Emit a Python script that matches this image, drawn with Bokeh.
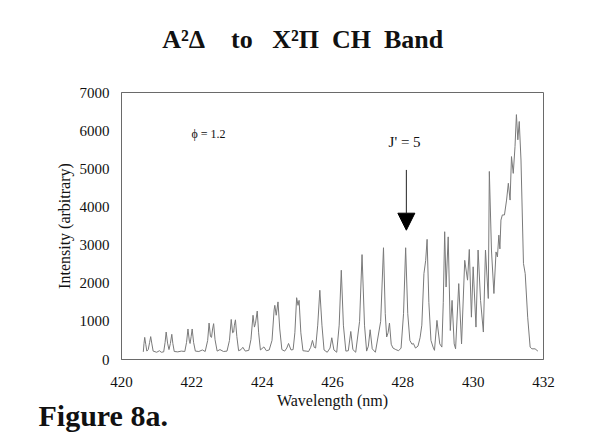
from bokeh.plotting import figure
from bokeh.layouts import column
from bokeh.models import Range1d, FixedTicker, Label, Arrow, NormalHead, ColumnDataSource, Title
from bokeh.embed import file_html
from bokeh.resources import INLINE

# Spectrum vertices (wavelength nm, intensity arbitrary)
wavelength = [
    420.62, 420.64, 420.66, 420.69, 420.72, 420.76, 420.80, 420.83, 420.86, 420.90,
    421.00, 421.08, 421.13, 421.20, 421.24, 421.27, 421.31, 421.35, 421.39, 421.43,
    421.46, 421.50, 421.60, 421.70, 421.80, 421.85, 421.89, 421.93, 421.95, 421.98,
    422.01, 422.05, 422.10, 422.20, 422.30, 422.38, 422.45, 422.49, 422.53, 422.56,
    422.59, 422.62, 422.66, 422.72, 422.80, 422.90, 423.00, 423.07, 423.12, 423.16,
    423.19, 423.21, 423.24, 423.28, 423.33, 423.40, 423.45, 423.52, 423.62, 423.68,
    423.74, 423.78, 423.81, 423.86, 423.90, 423.95, 424.05, 424.12, 424.20, 424.28,
    424.34, 424.36, 424.40, 424.45, 424.50, 424.56, 424.64, 424.70, 424.75, 424.82,
    424.88, 424.93, 424.98, 425.02, 425.05, 425.10, 425.16, 425.25, 425.32, 425.38,
    425.43, 425.48, 425.52, 425.58, 425.64, 425.70, 425.76, 425.85, 425.93, 425.98,
    426.04, 426.12, 426.19, 426.25, 426.31, 426.38, 426.45, 426.52, 426.58, 426.66,
    426.77, 426.84, 426.91, 426.97, 427.02, 427.07, 427.13, 427.22, 427.37, 427.45,
    427.50, 427.54, 427.58, 427.62, 427.67, 427.72, 427.80, 427.88, 427.95, 428.02,
    428.08, 428.14, 428.20, 428.26, 428.30, 428.36, 428.43, 428.49, 428.54, 428.60,
    428.65, 428.69, 428.74, 428.80, 428.86, 428.90, 428.97, 429.05, 429.11, 429.15,
    429.19, 429.23, 429.29, 429.35, 429.40, 429.46, 429.50, 429.59, 429.67, 429.76,
    429.84, 429.89, 429.95, 430.00, 430.08, 430.14, 430.21, 430.29, 430.35, 430.43,
    430.46, 430.52, 430.59, 430.65, 430.69, 430.73, 430.76, 430.79, 430.83, 430.89,
    430.95, 431.00, 431.05, 431.09, 431.14, 431.19, 431.23, 431.27, 431.31, 431.36,
    431.43, 431.48, 431.55, 431.62, 431.67, 431.76, 431.84,
]
intensity = [
    200, 420, 580, 400, 220, 260, 450, 600, 430, 220,
    190, 230, 190, 200, 450, 720, 430, 260, 420, 660,
    420, 210, 200, 220, 210, 450, 800, 480, 420, 600,
    800, 450, 220, 210, 250, 210, 500, 955, 600, 580,
    800, 940, 520, 220, 260, 210, 220, 500, 1050, 700,
    720, 900, 1040, 600, 230, 260, 320, 220, 240, 520,
    1160, 850, 950, 1270, 700, 250, 330, 230, 250, 500,
    1300, 1420, 1160, 1510, 800, 260, 220, 300, 420, 250,
    260, 700, 1620, 1420, 1550, 700, 230, 220, 210, 320,
    500, 320, 300, 900, 1815, 900, 250, 190, 300, 570,
    250, 190, 900, 2340, 900, 220, 230, 735, 260, 190,
    1000, 2750, 900, 220, 350, 780, 280, 190, 1000, 2930,
    1200, 590, 700, 955, 400, 300, 260, 230, 300, 1200,
    2930, 1200, 500, 400, 420, 300, 350, 570, 900, 2250,
    2600, 3150, 1500, 500, 325, 240, 1025, 410, 325, 1500,
    3350, 1900, 3215, 760, 1550, 410, 280, 1990, 410, 2600,
    2080, 2885, 1110, 2430, 850, 2870, 1550, 720, 2870, 1600,
    4930, 2870, 1730, 2820, 2690, 3260, 2900, 3655, 3790, 3790,
    4180, 4620, 4180, 5320, 4880, 5580, 6420, 5760, 6240, 5230,
    2520, 2250, 1110, 325, 280, 280, 220,
]

x_ticks = [420, 422, 424, 426, 428, 430, 432]
y_ticks = [0, 1000, 2000, 3000, 4000, 5000, 6000, 7000]

title_text = "A\u00b2\u0394\u2003to\u2002 X\u00b2\u03a0\u2002CH\u2002Band"
figure_caption = "Figure 8a."
phi_text = "\u03d5 = 1.2"
j_text = "J' = 5"
arrow_x = 428.10
arrow_from = 4970
arrow_to = 3390

SERIF = "Liberation Serif"
W = 573
HEAD_H = 86

# Header strip carrying the chart title (no axes)
head = figure(width=W, height=HEAD_H, output_backend="svg", toolbar_location=None,
              x_range=Range1d(0, W), y_range=Range1d(0, HEAD_H),
              x_axis_location=None, y_axis_location=None,
              min_border_left=0, min_border_right=0, min_border_top=0, min_border_bottom=0)
head.grid.visible = False
head.outline_line_color = None
head.background_fill_color = "white"
head.border_fill_color = "white"
head.add_layout(Label(x=246, y=47, text=title_text, text_font=SERIF,
                      text_font_style="bold", text_font_size="26px", text_align="center",
                      text_baseline="alphabetic", text_color="#111111"))

p = figure(width=W, height=432 - HEAD_H, output_backend="svg", toolbar_location=None,
           x_range=Range1d(420, 432), y_range=Range1d(0, 7000),
           min_border_left=121, min_border_right=30, min_border_top=92 - HEAD_H,
           min_border_bottom=73)
p.background_fill_color = "white"
p.border_fill_color = "white"
p.outline_line_color = "#6a6a6a"
p.outline_line_width = 1
p.grid.visible = False

src = ColumnDataSource(data=dict(x=wavelength, y=intensity))
p.line("x", "y", source=src, line_color="#7a7a7a", line_width=1)

for ax in (p.xaxis[0], p.yaxis[0]):
    ax.axis_line_color = "#6a6a6a"
    ax.major_tick_in = 0
    ax.major_tick_out = 0
    ax.minor_tick_in = 0
    ax.minor_tick_out = 0
    ax.major_label_text_font = SERIF
    ax.major_label_text_font_size = "15px"
    ax.major_label_text_color = "#111111"
    ax.axis_label_text_font = SERIF
    ax.axis_label_text_font_style = "normal"
    ax.axis_label_text_font_size = "16px"
    ax.axis_label_text_color = "#111111"

p.xaxis[0].ticker = FixedTicker(ticks=x_ticks)
p.yaxis[0].ticker = FixedTicker(ticks=y_ticks)
p.xaxis[0].major_label_standoff = 17
p.yaxis[0].major_label_standoff = 12
p.xaxis[0].axis_label = "Wavelength (nm)"
p.yaxis[0].axis_label = "Intensity (arbitrary)"
p.xaxis[0].axis_label_standoff = 2
p.yaxis[0].axis_label_standoff = 4

caption = Title(text=figure_caption, align="left", offset=-83, standoff=-29,
                text_font=SERIF, text_font_style="bold", text_font_size="30px",
                text_color="#111111")
p.add_layout(caption, "below")

p.add_layout(Label(x=421.99, y=5900, text=phi_text, text_font=SERIF,
                   text_font_size="12px", text_align="left",
                   text_baseline="alphabetic", text_color="#111111"))
p.add_layout(Label(x=428.05, y=5700, text=j_text, text_font=SERIF,
                   text_font_size="15px", text_align="center",
                   text_baseline="alphabetic", text_color="#111111"))
p.add_layout(Arrow(x_start=arrow_x, y_start=arrow_from, x_end=arrow_x, y_end=arrow_to,
                   line_color="#222222", line_width=1,
                   end=NormalHead(size=17, fill_color="black", line_color="black")))

layout = column(head, p, spacing=0)
open("out.html", "w").write(file_html(layout, INLINE))
